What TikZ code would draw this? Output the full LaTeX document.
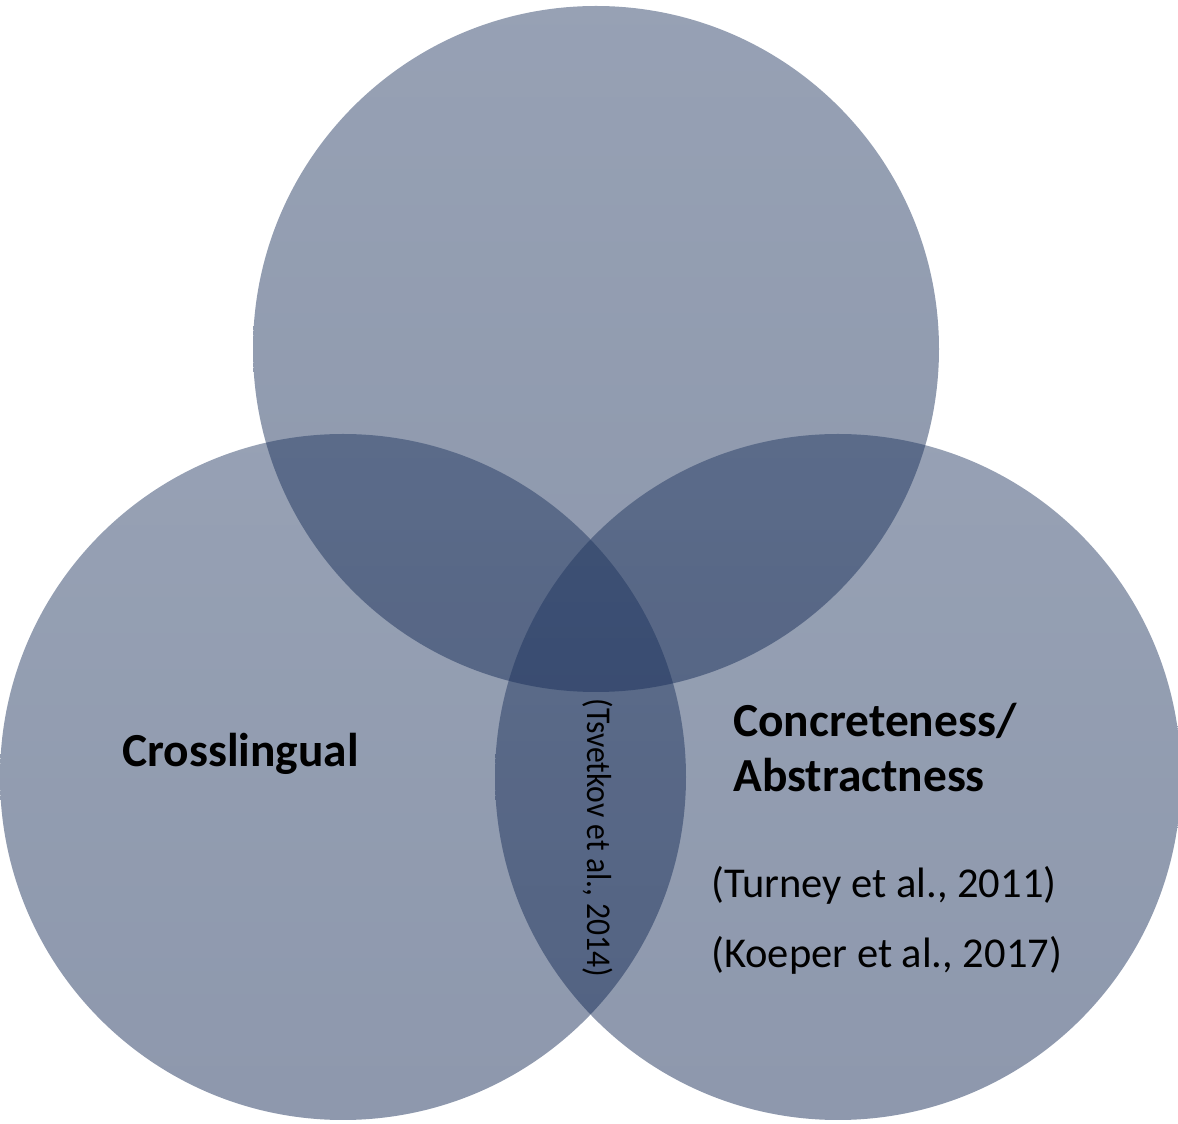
\documentclass[tikz,border=0pt]{standalone}
\usepackage{fontspec}
\setmainfont{Carlito}
\begin{document}
\begin{tikzpicture}[x=0.02cm,y=-0.02cm]
  \definecolor{navytop}{RGB}{33,55,96}
  \definecolor{navybot}{RGB}{14,36,80}
  \tikzset{
    venn/.style={top color=navytop,bottom color=navybot,fill opacity=0.47,draw=none},
    heading/.style={anchor=base west,inner sep=0pt,font=\bfseries\fontsize{27}{31}\selectfont},
    citation/.style={anchor=base west,inner sep=0pt,font=\fontsize{24.2}{28}\selectfont},
  }
  \useasboundingbox (0,0) rectangle (1178,1124);

  % the three overlapping sets
  \coordinate (ctop) at (596,349);
  \coordinate (cleft) at (343,777);
  \coordinate (cright) at (838,777);
  \shade[venn] (ctop) circle [radius=343];
  \shade[venn] (cleft) circle [radius=343];
  \shade[venn] (cright) circle [radius=343];

  % labels
  \node[heading] (cross) at (122,767) {Crosslingual};
  \node[heading] (conc) at (733,737) {Concreteness/};
  \node[heading] (abst) at (733,792) {Abstractness};
  \node[citation] (turney) at (711,898) {(Turney et al., 2011)};
  \node[citation] (koeper) at (711,968) {(Koeper et al., 2017)};
  \node[rotate=-90,inner sep=0pt,font=\fontsize{19.8}{22}\selectfont] (tsv) at (598,838)
    {\scalebox{0.91}[1]{(Tsvetkov et al., 2014)}};
\end{tikzpicture}
\end{document}
